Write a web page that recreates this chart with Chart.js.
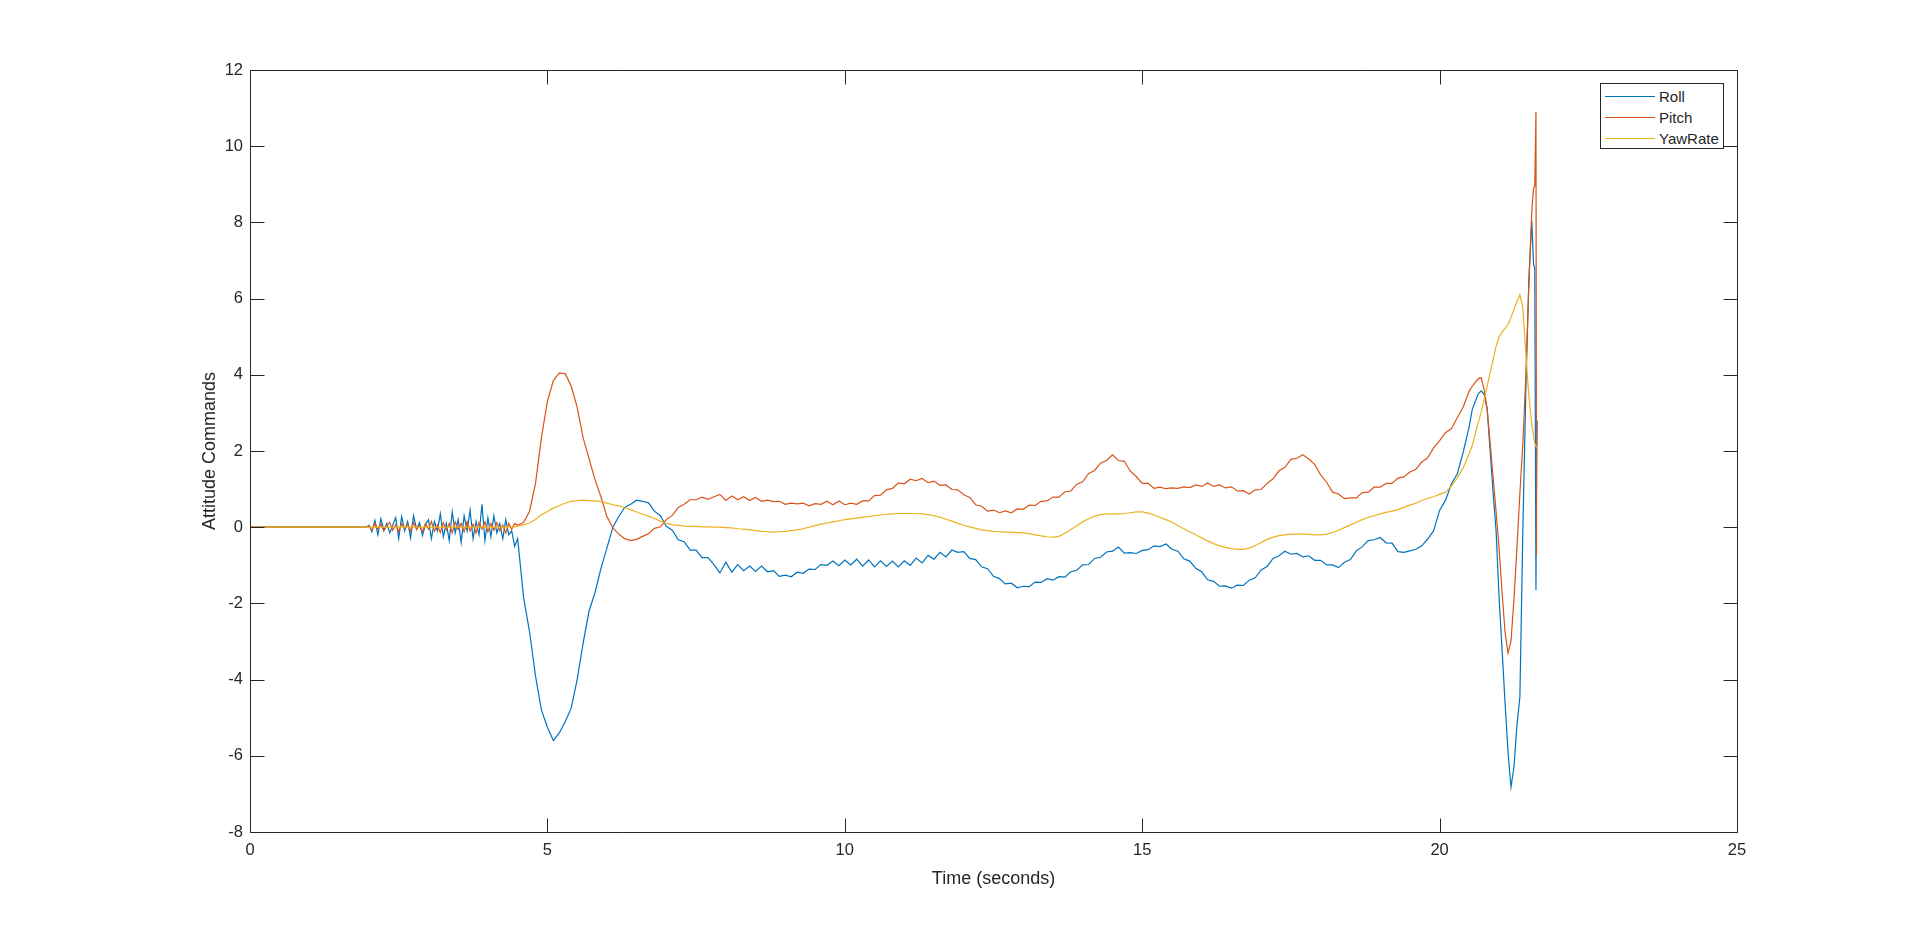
<!DOCTYPE html>
<html><head><meta charset="utf-8">
<script src="https://cdn.jsdelivr.net/npm/chart.js@4.4.1/dist/chart.umd.min.js"></script>
<style>
html,body{margin:0;padding:0;background:#fff;}
#wrap{position:relative;width:1920px;height:936px;}
canvas{display:block;}
#legend{position:absolute;left:1600px;top:83px;width:122px;height:64px;border:1px solid #262626;background:#fff;font-family:"Liberation Sans",Arial,sans-serif;font-size:15px;color:#262626;}
.row{position:absolute;left:0;width:122px;height:21px;line-height:21px;white-space:nowrap;}
.sw{position:absolute;left:4px;top:10px;width:50px;height:1px;}
.lbl{position:absolute;left:58px;top:0;}
</style></head>
<body>
<div id="wrap"><canvas id="c" width="1920" height="936"></canvas><div id="legend"></div></div>
<script>
// ---- categories (time, seconds) ----
const timeA = [0, 1.95,
  2.00,2.05,2.10,2.15,2.20,2.25,2.30,2.35,2.40,2.45,
  2.50,2.55,2.60,2.65,2.70,2.75,2.80,2.85,2.90,2.95,
  3.00,3.05,3.10,3.15,3.20,3.25,3.30,3.35,3.40,3.45,
  3.50,3.55,3.60,3.65,3.70,3.75,3.80,3.85,3.90,3.95,
  4.00,4.05,4.10,4.15,4.20,4.25,4.30,4.35,4.40,4.45,
  4.50];
const timeB = [
  4.6,4.7,4.8,4.9,5.0,5.1,5.2,5.3,5.4,5.5,
  5.6,5.7,5.8,5.9,6.0,6.1,6.2,6.3,6.4,6.5,
  6.6,6.7,6.8,6.9,7.0,7.1,7.2,7.3,7.4,7.5,
  7.6,7.7,7.8,7.9,8.0,8.1,8.2,8.3,8.4,8.5,
  8.6,8.7,8.8,8.9,9.0,9.1,9.2,9.3,9.4,9.5,
  9.6,9.7,9.8,9.9,10.0,10.1,10.2,10.3,10.4,10.5,
  10.6,10.7,10.8,10.9,11.0,11.1,11.2,11.3,11.4,11.5,
  11.6,11.7,11.8,11.9,12.0,12.1,12.2,12.3,12.4,12.5,
  12.6,12.7,12.8,12.9,13.0,13.1,13.2,13.3,13.4,13.5,
  13.6,13.7,13.8,13.9,14.0,14.1,14.2,14.3,14.4,14.5,
  14.6,14.7,14.8,14.9,15.0,15.1,15.2,15.3,15.4,15.5,
  15.6,15.7,15.8,15.9,16.0,16.1,16.2,16.3,16.4,16.5,
  16.6,16.7,16.8,16.9,17.0,17.1,17.2,17.3,17.4,17.5,
  17.6,17.7,17.8,17.9,18.0,18.1,18.2,18.3,18.4,18.5,
  18.6,18.7,18.8,18.9,19.0,19.1,19.2,19.3,19.4,19.5,
  19.6,19.7,19.8,19.9,20.0,20.1,20.2,20.3,20.4,20.5];
const timeC = [20.55,20.6,20.65,20.7,20.75,20.8,20.85,20.9,20.95,21.0,
  21.05,21.1,21.15,21.2,21.25,21.3,21.35,21.4,21.45,21.5,
  21.55,21.58,21.6,21.62,21.63,21.64];

// ---- Roll ----
const rollA = [0, 0,
  0.05,-0.12,0.18,-0.2,0.22,-0.08,0.1,-0.15,0.05,0.25,
  -0.3,0.28,-0.1,0.15,-0.28,0.3,-0.05,0.12,-0.22,0.08,
  0.2,-0.3,0.15,-0.1,0.35,-0.25,0.1,-0.35,0.4,-0.15,
  0.2,-0.4,0.3,-0.1,0.45,-0.3,0.15,-0.2,0.6,-0.35,
  0.25,-0.25,0.3,-0.15,0.1,-0.3,0.2,-0.2,-0.1,-0.5,
  -0.3];
const rollB = [
  -1.85,-2.75,-3.9,-4.8,-5.25,-5.6,-5.4,-5.1,-4.75,-4.0,
  -3.05,-2.2,-1.72,-1.08,-0.55,0.0,0.28,0.52,0.6,0.71,
  0.68,0.64,0.42,0.3,0.02,-0.08,-0.33,-0.38,-0.6,-0.6,
  -0.8,-0.8,-0.98,-1.2,-0.92,-1.18,-0.98,-1.14,-1.02,-1.16,
  -1.02,-1.17,-1.14,-1.29,-1.26,-1.3,-1.18,-1.21,-1.1,-1.11,
  -0.98,-1.0,-0.89,-1.01,-0.86,-0.99,-0.84,-1.02,-0.86,-1.04,
  -0.88,-1.03,-0.89,-1.04,-0.88,-1.0,-0.81,-0.94,-0.74,-0.84,
  -0.66,-0.78,-0.6,-0.66,-0.64,-0.82,-0.85,-1.04,-1.09,-1.29,
  -1.35,-1.49,-1.47,-1.59,-1.55,-1.56,-1.44,-1.45,-1.35,-1.39,
  -1.3,-1.31,-1.17,-1.13,-0.99,-0.98,-0.82,-0.79,-0.65,-0.63,
  -0.52,-0.68,-0.67,-0.69,-0.61,-0.59,-0.49,-0.51,-0.44,-0.58,
  -0.63,-0.83,-0.89,-1.08,-1.17,-1.38,-1.42,-1.55,-1.54,-1.6,
  -1.52,-1.53,-1.39,-1.33,-1.12,-1.03,-0.82,-0.75,-0.63,-0.71,
  -0.69,-0.78,-0.75,-0.87,-0.87,-0.99,-0.99,-1.06,-0.92,-0.85,
  -0.62,-0.51,-0.35,-0.33,-0.27,-0.41,-0.42,-0.64,-0.66,-0.62,
  -0.58,-0.49,-0.31,-0.09,0.44,0.71,1.14,1.41,1.99,2.66];
const rollC = [3.1,3.3,3.5,3.58,3.48,3.1,2.0,0.9,-0.1,-1.85,
  -3.2,-4.6,-5.9,-6.82,-6.3,-5.2,-4.45,-0.05,3.6,6.5,
  8.05,6.9,6.8,-1.65,1.0,2.8];

// ---- Pitch ----
const pitchA = [0, 0,
  0.02,-0.08,0.1,-0.05,0.08,-0.1,0.05,0.12,-0.08,0.06,
  -0.12,0.1,-0.04,0.08,-0.1,0.12,-0.06,0.04,-0.12,0.1,
  -0.05,0.15,-0.1,0.06,-0.14,0.12,-0.08,0.1,-0.15,0.14,
  -0.06,0.1,-0.12,0.15,-0.1,0.08,-0.15,0.12,-0.05,0.14,
  -0.12,0.1,-0.08,0.12,-0.1,0.06,-0.15,0.1,-0.05,0.1,
  0.05];
const pitchB = [
  0.12,0.42,1.15,2.35,3.3,3.85,4.05,4.03,3.7,3.15,
  2.35,1.8,1.25,0.8,0.28,-0.02,-0.18,-0.3,-0.35,-0.32,
  -0.24,-0.17,-0.03,0.01,0.2,0.31,0.52,0.6,0.72,0.72,
  0.79,0.73,0.8,0.86,0.7,0.82,0.72,0.8,0.7,0.78,
  0.68,0.71,0.67,0.68,0.6,0.63,0.61,0.63,0.56,0.62,
  0.6,0.68,0.59,0.69,0.59,0.63,0.6,0.69,0.69,0.83,
  0.84,0.98,1.02,1.16,1.14,1.26,1.22,1.28,1.17,1.21,
  1.1,1.11,0.99,0.98,0.85,0.78,0.59,0.55,0.42,0.45,
  0.38,0.43,0.38,0.48,0.47,0.58,0.57,0.68,0.69,0.79,
  0.79,0.93,0.95,1.13,1.19,1.41,1.49,1.68,1.75,1.9,
  1.75,1.73,1.47,1.33,1.15,1.15,1.02,1.05,1.01,1.03,
  1.02,1.06,1.04,1.11,1.07,1.16,1.07,1.11,1.03,1.06,
  0.95,0.96,0.87,0.98,0.99,1.15,1.27,1.48,1.57,1.78,
  1.81,1.9,1.79,1.65,1.37,1.18,0.92,0.87,0.75,0.77,
  0.77,0.91,0.92,1.05,1.05,1.15,1.15,1.29,1.32,1.45,
  1.52,1.71,1.82,2.08,2.27,2.48,2.59,2.88,3.17,3.58];
const pitchC = [3.7,3.8,3.9,3.92,3.6,3.1,2.2,1.3,0.4,-0.55,
  -1.7,-2.75,-3.3,-3.0,-1.9,-0.55,0.9,2.2,4.0,6.3,
  8.3,8.9,8.95,10.9,-0.7,-0.7];

// ---- YawRate ----
const yawA = [0, 0,
  0,0,0,0,0,0,0,0,0,0,
  0,0,0,0,0,0,0,0,0,0,
  0,0,0,0,0,0,0,0,0,0,
  0,0,0,0,0,0,0,0,0,0,
  0,0,0,0,0,0,0,0,0,0.01,
  0.03];
const yawB = [
  0.06,0.11,0.2,0.33,0.41,0.5,0.57,0.63,0.68,0.7,
  0.71,0.7,0.69,0.67,0.63,0.59,0.56,0.51,0.46,0.4,
  0.34,0.29,0.23,0.16,0.1,0.07,0.05,0.03,0.02,0.02,
  0.01,0.01,0.0,0.0,-0.01,-0.02,-0.04,-0.05,-0.07,-0.09,
  -0.11,-0.12,-0.13,-0.12,-0.11,-0.09,-0.07,-0.04,0.0,0.04,
  0.08,0.11,0.14,0.17,0.2,0.22,0.24,0.26,0.28,0.3,
  0.32,0.34,0.35,0.36,0.36,0.36,0.36,0.35,0.33,0.3,
  0.26,0.21,0.16,0.1,0.05,0.01,-0.03,-0.07,-0.09,-0.11,
  -0.12,-0.13,-0.13,-0.14,-0.15,-0.17,-0.2,-0.23,-0.25,-0.26,
  -0.24,-0.16,-0.06,0.04,0.14,0.22,0.29,0.33,0.35,0.35,
  0.35,0.36,0.38,0.4,0.4,0.37,0.32,0.26,0.2,0.13,
  0.04,-0.04,-0.12,-0.2,-0.28,-0.36,-0.43,-0.49,-0.53,-0.56,
  -0.58,-0.58,-0.55,-0.48,-0.4,-0.32,-0.26,-0.22,-0.2,-0.18,
  -0.18,-0.18,-0.19,-0.2,-0.2,-0.18,-0.14,-0.08,-0.01,0.06,
  0.13,0.2,0.26,0.3,0.35,0.39,0.42,0.46,0.52,0.58,
  0.63,0.7,0.76,0.8,0.86,0.92,1.08,1.3,1.57,1.95];
const yawC = [2.15,2.45,2.75,3.02,3.35,3.7,4.05,4.4,4.75,5.0,
  5.12,5.22,5.32,5.5,5.72,5.92,6.1,5.75,4.55,3.45,
  2.7,2.38,2.2,2.12,2.1,2.1];

// ---- labels and ticks ----
const seriesNames = ['Roll', 'Pitch', 'YawRate'];
const seriesColors = ['#0072BD', '#D95319', '#EDB120'];
const xTickValues = [0, 5, 10, 15, 20, 25];
const yTickValues = [-8, -6, -4, -2, 0, 2, 4, 6, 8, 10, 12];
const xTitle = 'Time (seconds)';
const yTitle = 'Attitude Commands';

const time = timeA.concat(timeB, timeC);
const series = [rollA.concat(rollB, rollC), pitchA.concat(pitchB, pitchC), yawA.concat(yawB, yawC)];
function pts(vals){
  const n = Math.min(time.length, vals.length);
  const out = [];
  for (let i = 0; i < n; i++) out.push({x: time[i], y: vals[i]});
  return out;
}

const FONT = '"Liberation Sans", Arial, Helvetica, sans-serif';
const AX = '#262626';

const boxPlugin = {
  id: 'boxTicks',
  afterDatasetsDraw(chart){
    const {ctx, chartArea: a, scales: {x, y}} = chart;
    ctx.save();
    ctx.strokeStyle = AX; ctx.lineWidth = 1;
    const L = Math.round(a.left) + 0.5, R = Math.round(a.right) + 0.5;
    const T = Math.round(a.top) + 0.5, B = Math.round(a.bottom) + 0.5;
    ctx.beginPath(); ctx.rect(L, T, R - L, B - T); ctx.stroke();
    const tl = 14;
    ctx.beginPath();
    x.ticks.forEach(tk => {
      const px = Math.round(x.getPixelForValue(tk.value)) + 0.5;
      ctx.moveTo(px, B); ctx.lineTo(px, B - tl);
      ctx.moveTo(px, T); ctx.lineTo(px, T + tl);
    });
    y.ticks.forEach(tk => {
      const py = Math.round(y.getPixelForValue(tk.value)) + 0.5;
      ctx.moveTo(L, py); ctx.lineTo(L + tl, py);
      ctx.moveTo(R, py); ctx.lineTo(R - tl, py);
    });
    ctx.stroke();
    ctx.restore();
  }
};

const datasets = seriesNames.map((name, i) => ({
  label: name,
  data: pts(series[i]),
  borderColor: seriesColors[i],
  backgroundColor: seriesColors[i],
  borderWidth: 1.2,
  pointRadius: 0,
  tension: 0,
  fill: false,
  order: 3 - i
}));

const chart = new Chart(document.getElementById('c'), {
  type: 'line',
  data: {datasets},
  options: {
    responsive: false,
    animation: false,
    events: [],
    layout: {padding: {left: 0, top: 70, right: 183, bottom: 0}},
    plugins: {legend: {display: false}, tooltip: {enabled: false}},
    scales: {
      x: {
        type: 'linear', min: 0, max: 25,
        afterBuildTicks: s => { s.ticks = xTickValues.map(v => ({value: v})); },
        afterFit: s => { s.height = 104; },
        grid: {display: false, drawTicks: false},
        border: {display: false},
        ticks: {padding: 9, color: AX, font: {family: FONT, size: 16.5}, maxRotation: 0, autoSkip: false},
        title: {display: true, text: xTitle, color: AX, font: {family: FONT, size: 18}, padding: {top: 0, bottom: 46.5}}
      },
      y: {
        type: 'linear', min: -8, max: 12,
        afterBuildTicks: s => { s.ticks = yTickValues.map(v => ({value: v})); },
        afterFit: s => { s.width = 250; },
        grid: {display: false, drawTicks: false},
        border: {display: false},
        ticks: {padding: 7, color: AX, font: {family: FONT, size: 16.5}, autoSkip: false},
        title: {display: true, text: yTitle, color: AX, font: {family: FONT, size: 18}, padding: {top: 199, bottom: 0}}
      }
    }
  },
  plugins: [boxPlugin]
});

// HTML legend built from the chart's datasets
const leg = document.getElementById('legend');
chart.data.datasets.forEach((ds, i) => {
  const row = document.createElement('div');
  row.className = 'row';
  row.style.top = (1.5 + i * 21) + 'px';
  const sw = document.createElement('div');
  sw.className = 'sw'; sw.style.background = ds.borderColor;
  const lb = document.createElement('span');
  lb.className = 'lbl'; lb.textContent = ds.label;
  row.appendChild(sw); row.appendChild(lb);
  leg.appendChild(row);
});
</script>
</body></html>
